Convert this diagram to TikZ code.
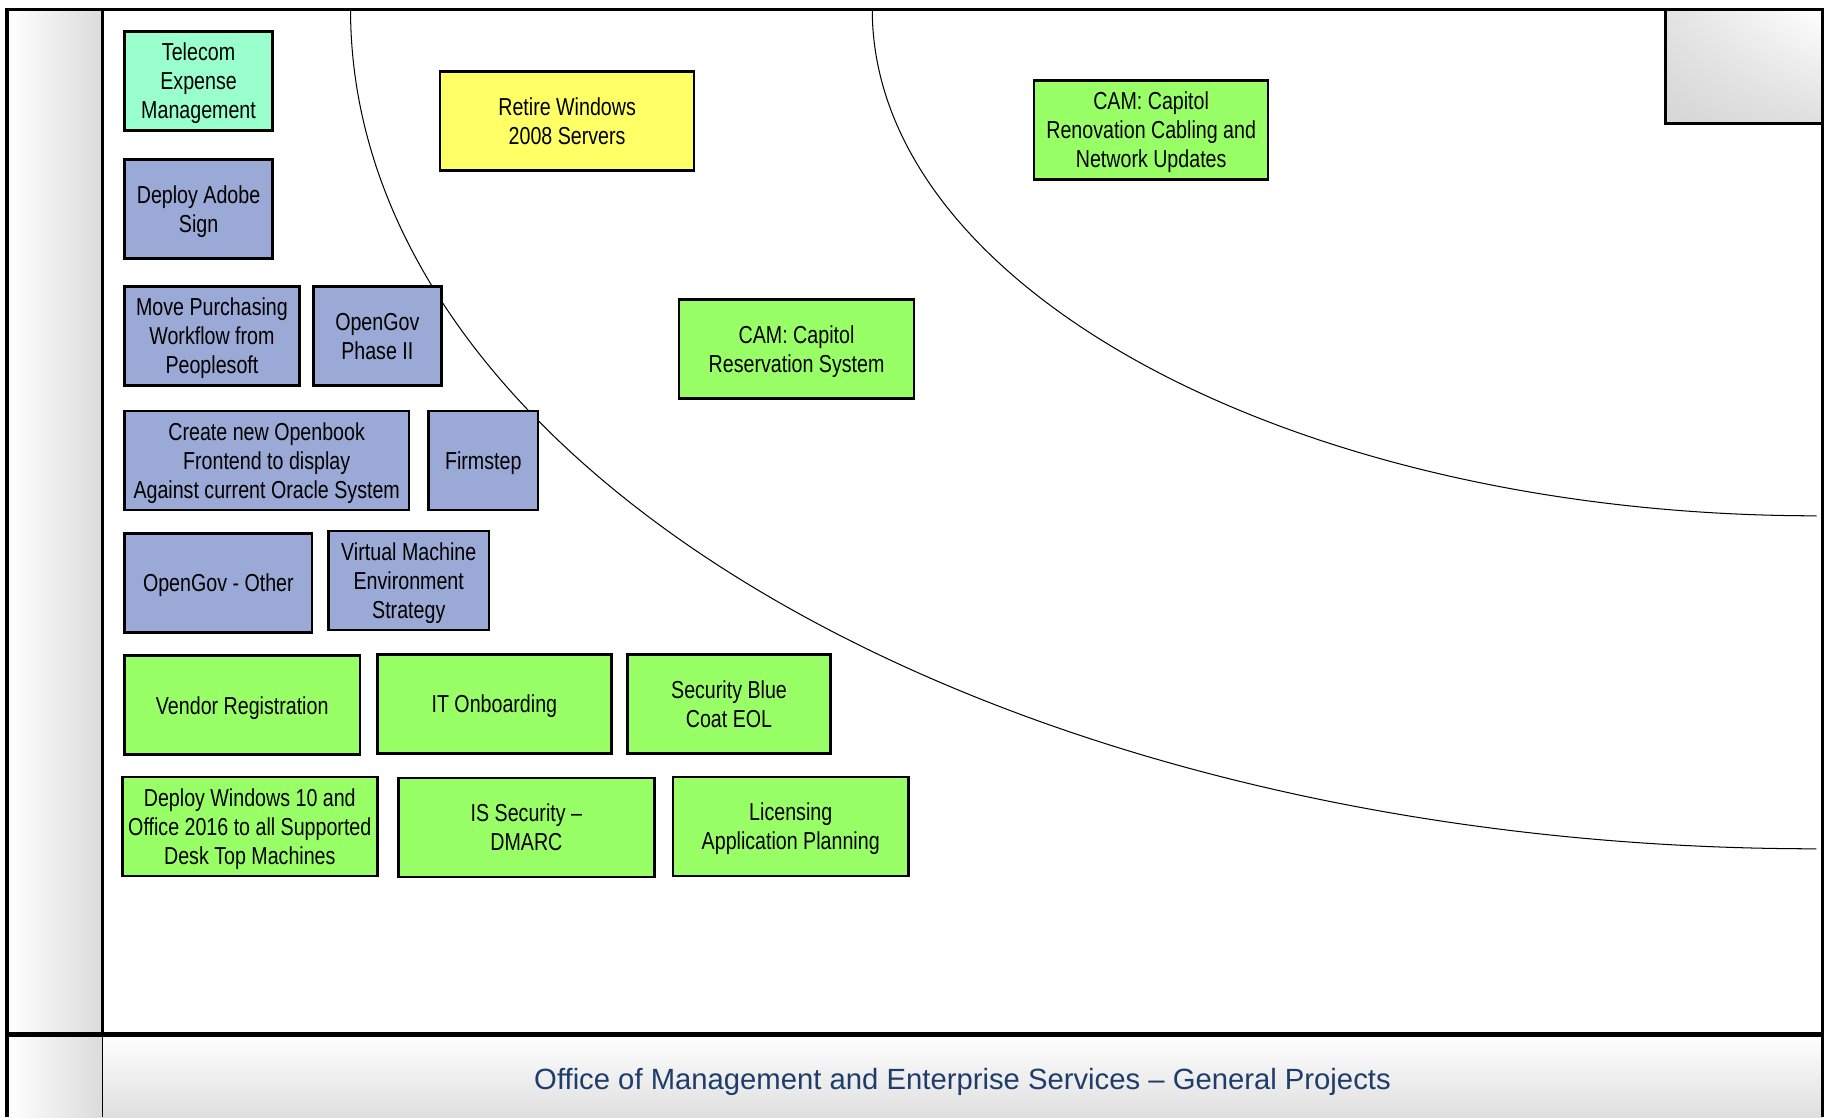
\documentclass[tikz,border=0pt]{standalone}
\usepackage{fontspec}
\setmainfont{Liberation Sans}
\newfontfamily\narrowfont{Liberation Sans}[FakeStretch=0.8]
\usepackage{tikz}
\usetikzlibrary{shadings}
\definecolor{temgreen}{RGB}{153,255,204}
\definecolor{retireyellow}{RGB}{255,255,102}
\definecolor{projgreen}{RGB}{153,255,102}
\definecolor{projblue}{RGB}{154,169,213}
\definecolor{footerblue}{RGB}{31,61,107}
\tikzset{proj/.style={draw, line width=1.2pt, minimum height=1.7cm, align=center, inner sep=1pt, text depth=-1.6pt, font=\narrowfont\fontsize{12}{14.2}\selectfont}}
\tikzset{blue proj/.style={proj, fill=projblue}}
\tikzset{green proj/.style={proj, fill=projgreen}}

\begin{document}
\begin{tikzpicture}[x=0.02cm, y=-0.02cm]
\useasboundingbox (0,0) rectangle (1568,959.2);

% frame shading
\shade[left color=white, right color=gray!28] (6,8) rectangle (88,959.2);
\shade[top color=white, bottom color=gray!25] (88,888) rectangle (1565,959.2);
\shade[lower left=gray!32, lower right=gray!25, upper left=gray!22, upper right=white] (1430,8) rectangle (1565,106);

% rings
\draw[line width=0.5pt] (301,8) arc[start angle=180, end angle=270, x radius=25.18cm, y radius=14.42cm];
\draw[line width=0.5pt] (749,8) arc[start angle=180, end angle=270, x radius=16.22cm, y radius=8.70cm];

% frame
\draw[line width=1.5pt] (6,959.2) -- (6,8) -- (1565,8) -- (1565,959.2);
\draw[line width=1.5pt] (88,8) -- (88,888);
\draw[line width=0.8pt] (88,888) -- (88,959.2);
\draw[line width=1.2pt] (1430,8) -- (1430,106) -- (1565,106);
\draw[line width=2.4pt] (6,888) -- (1565,888);

% projects
\node[proj, fill=temgreen, minimum width=2.54cm] (tem) at (170.5,69.5) {Telecom\\Expense\\Management};
\node[proj, fill=retireyellow, minimum width=4.36cm] (retire) at (487,104) {Retire Windows\\2008 Servers};
\node[green proj, minimum width=4.02cm] (cabling) at (988.5,111.5) {CAM: Capitol\\Renovation Cabling and\\Network Updates};

\node[blue proj, minimum width=2.54cm] (adobe) at (170.5,179.5) {Deploy Adobe\\Sign};
\node[blue proj, minimum width=3.00cm] (purchasing) at (182,288.5) {Move Purchasing\\Workflow from\\Peoplesoft};
\node[blue proj, minimum width=2.20cm] (opengov2) at (324,288.5) {OpenGov\\Phase II};
\node[green proj, minimum width=4.04cm] (reservation) at (684,299.5) {CAM: Capitol\\Reservation System};

\node[blue proj, minimum width=4.88cm] (openbook) at (229,395.5) {Create new Openbook\\Frontend to display\\Against current Oracle System};
\node[blue proj, minimum width=1.88cm] (firmstep) at (415,395.5) {Firmstep};
\node[blue proj, minimum width=3.22cm] (opengovother) at (187.5,500.5) {OpenGov - Other};
\node[blue proj, minimum width=2.76cm] (vm) at (351,498.5) {Virtual Machine\\Environment\\Strategy};

\node[green proj, minimum width=4.04cm] (vendor) at (208,605.5) {Vendor Registration};
\node[green proj, minimum width=4.02cm] (onboarding) at (424.5,604.5) {IT Onboarding};
\node[green proj, minimum width=3.48cm] (bluecoat) at (626,604.5) {Security Blue\\Coat EOL};

\node[green proj, minimum width=4.38cm] (win10) at (214.5,709.5) {Deploy Windows 10 and\\Office 2016 to all Supported\\Desk Top Machines};
\node[green proj, minimum width=4.40cm] (dmarc) at (452,710.5) {IS Security –\\DMARC};
\node[green proj, minimum width=4.04cm] (licensing) at (679,709.5) {Licensing\\Application Planning};

% footer
\node[text=footerblue, font=\fontsize{14.3}{16}\selectfont] (footer) at (826.5,929) {Office of Management and Enterprise Services – General Projects};
\end{tikzpicture}
\end{document}
